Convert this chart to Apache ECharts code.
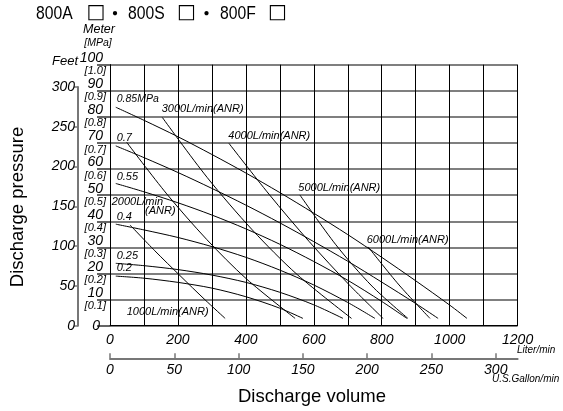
<!DOCTYPE html>
<html><head><meta charset="utf-8">
<script src="https://cdn.jsdelivr.net/npm/echarts@6/dist/echarts.min.js"></script>
<style>html,body{margin:0;padding:0;background:#fff}#c{width:563px;height:411px}</style>
</head><body><div id="c"></div>
<script>
// ---- data (X: Liter/min, Y: Meter) ----
const meterTicks = [0,10,20,30,40,50,60,70,80,90,100];
const mpaTicks = ['', '[0.1]','[0.2]','[0.3]','[0.4]','[0.5]','[0.6]','[0.7]','[0.8]','[0.9]','[1.0]'];
const literLabels = [0,200,400,600,800,1000,1200];
const gallonTicks = [0,50,100,150,200,250,300];
const feetTicks = [0,50,100,150,200,250,300];

// discharge pressure curves (air supply pressure)
const p085 = [[17,83.7],[100,78.7],[200,72.4],[300,65.6],[400,58.5],[500,51.0],[600,43.1],[700,34.9],[800,26.2],[900,17.2],[1000,7.9],[1051,2.8]];
const p070 = [[17,68.9],[100,64.4],[200,58.7],[300,52.6],[400,46.2],[500,39.4],[600,32.2],[700,24.7],[800,16.7],[900,8.5],[966,2.8]];
const p055 = [[17,54.5],[100,51.3],[200,47.1],[300,42.4],[400,37.1],[500,31.2],[600,24.6],[700,17.4],[800,9.3],[874,2.8]];
const p040 = [[17,38.9],[100,36.7],[200,33.8],[300,30.3],[400,26.2],[500,21.3],[600,15.6],[700,8.9],[780,2.8]];
const p025 = [[17,23.9],[100,23.0],[200,21.5],[300,19.4],[400,16.6],[500,12.8],[600,8.0],[686,2.8]];
const p020 = [[17,19.0],[100,18.2],[200,16.6],[300,14.4],[400,11.1],[500,6.7],[568,2.8]];

// air consumption lines
const a1000 = [[59,38.6],[132,28.7],[206,19.2],[280,9.9],[339,2.8]];
const a2000 = [[49,70.3],[167,50.5],[285,33.0],[402,17.9],[545,2.8]];
const a3000 = [[154,79.8],[286,56.8],[419,36.7],[551,19.6],[711,2.8]];
const a4000 = [[350,69.9],[468,50.4],[586,32.3],[704,15.7],[804,2.8]];
const a5000 = [[559,50.1],[665,31.0],[771,15.2],[877,2.8]];
const a6000 = [[760,30.2],[851,15.6],[942,2.8]];

const curves = [p085,p070,p055,p040,p025,p020,a1000,a2000,a3000,a4000,a5000,a6000];
const L_PER_GAL = 3.78541;

const chart = echarts.init(document.getElementById('c'), null, {renderer:'canvas'});

function txt(text, x, y, size, opts, extra){
  return Object.assign({type:'text', x:x, y:y, style:Object.assign({text:text, fontSize:size, fontFamily:'Liberation Sans', fill:'#000', textVerticalAlign:'middle'}, opts||{})}, extra||{});
}
const ital = {fontStyle:'italic'};

chart.setOption({
  animation:false,
  backgroundColor:'#fff',
  grid:[
    {left:110, top:64.7, width:407.6, height:261},
    {left:110, top:357.3, width:407.6, height:1},
    {left:78, top:87, width:1, height:238.7}
  ],
  xAxis:[
    {gridIndex:0, type:'value', min:0, max:1200, interval:100,
     axisLine:{show:true, lineStyle:{color:'#000', width:1}},
     axisTick:{show:false},
     splitLine:{show:true, lineStyle:{color:'#000', width:1}},
     axisLabel:{margin:7, fontSize:14, fontStyle:'italic', fontFamily:'Liberation Sans', color:'#000',
       formatter:v=> literLabels.indexOf(v)>=0 ? String(v) : ''}},
    {gridIndex:1, type:'value', min:0, max:1200/L_PER_GAL, position:'top',
     axisLine:{show:true, lineStyle:{color:'#777', width:2}},
     axisTick:{show:true, inside:false, length:5, lineStyle:{color:'#777', width:1.5}, customValues:gallonTicks},
     splitLine:{show:false},
     axisLabel:{show:false}},
    {gridIndex:1, type:'value', min:0, max:1200/L_PER_GAL, position:'bottom',
     axisLine:{show:false}, axisTick:{show:false}, splitLine:{show:false},
     axisLabel:{margin:5, fontSize:14, fontStyle:'italic', fontFamily:'Liberation Sans', color:'#000', customValues:gallonTicks}},
    {gridIndex:2, type:'value', show:false, min:0, max:1}
  ],
  yAxis:[
    {gridIndex:0, type:'value', min:0, max:100, interval:10,
     axisLine:{show:true, lineStyle:{color:'#000', width:1}},
     axisTick:{show:true, length:13, lineStyle:{color:'#333', width:1.5}},
     splitLine:{show:true, lineStyle:{color:'#555', width:1.5}},
     axisLabel:{margin:4, formatter:function(v){
        const i = meterTicks.indexOf(v);
        if (i===0) return '{z|0}';
        return '{a|'+v+'}\n{b|'+mpaTicks[i]+'}';
      },
      rich:{
        a:{fontSize:14, lineHeight:13, fontStyle:'italic', fontFamily:'Liberation Sans', color:'#000', align:'right', padding:[0,3,0,0]},
        b:{fontSize:11, lineHeight:13, fontStyle:'italic', fontFamily:'Liberation Sans', color:'#000', align:'right'},
        z:{fontSize:14, fontStyle:'italic', fontFamily:'Liberation Sans', color:'#000', padding:[0,6,0,0]}
      }}},
    {gridIndex:1, type:'value', show:false, min:0, max:1},
    {gridIndex:2, type:'value', min:0, max:300, interval:50,
     axisLine:{show:true, lineStyle:{color:'#777', width:2}},
     axisTick:{show:true, length:4, lineStyle:{color:'#777', width:1.5}},
     splitLine:{show:false},
     axisLabel:{margin:3, fontSize:14, fontStyle:'italic', fontFamily:'Liberation Sans', color:'#000'}}
  ],
  series: curves.map(d=>({type:'line', xAxisIndex:0, yAxisIndex:0, data:d, symbol:'none', smooth:0.3, silent:true,
     lineStyle:{color:'#000', width:1}})),
  graphic:[
    txt('800A', 36, 13.5, 18.5, {}, {scaleX:0.85}),
    txt('\u25A1', 96, 13, 20, {fontFamily:'DejaVu Sans', textAlign:'center'}),
    txt('\u30FB', 115, 13.5, 20, {fontFamily:'Noto Sans CJK JP', textAlign:'center'}),
    txt('800S', 128, 13.5, 18.5, {}, {scaleX:0.85}),
    txt('\u25A1', 186.5, 13, 20, {fontFamily:'DejaVu Sans', textAlign:'center'}),
    txt('\u30FB', 206.5, 13.5, 20, {fontFamily:'Noto Sans CJK JP', textAlign:'center'}),
    txt('800F', 220, 13.5, 18.5, {}, {scaleX:0.85}),
    txt('\u25A1', 277.5, 13, 20, {fontFamily:'DejaVu Sans', textAlign:'center'}),
    txt('Discharge volume', 312, 396.6, 18.5, {textAlign:'center'}),
    {type:'text', x:18, y:207, rotation:Math.PI/2, style:{text:'Discharge pressure', fontSize:18.5, fontFamily:'Liberation Sans', fill:'#000', textAlign:'center', textVerticalAlign:'middle'}},
    txt('Meter', 99, 30, 12.5, {textAlign:'center', fontStyle:'italic'}),
    txt('[MPa]', 98, 43, 10.5, {textAlign:'center', fontStyle:'italic'}),
    txt('Feet', 52, 61, 13, ital),
    txt('Liter/min', 517, 350, 10, ital),
    txt('U.S.Gallon/min', 492, 379.5, 10, ital),
    txt('0.85MPa', 116.7, 98.7, 10.5, ital),
    txt('0.7', 116.7, 137.7, 11, ital),
    txt('0.55', 116.7, 177, 11, ital),
    txt('0.4', 116.7, 216.7, 11, ital),
    txt('0.25', 116.7, 255.8, 11, ital),
    txt('0.2', 116.7, 268, 11, ital),
    txt('3000L/min(ANR)', 161.7, 109, 11, ital),
    txt('4000L/min(ANR)', 228.3, 136, 11, ital),
    txt('5000L/min(ANR)', 298.3, 188.3, 11, ital),
    txt('6000L/min(ANR)', 366.7, 240.3, 11, ital),
    txt('2000L/min', 111.7, 201.7, 11, ital),
    txt('(ANR)', 145, 211, 11, ital),
    txt('1000L/min(ANR)', 126.7, 312, 11, ital)
  ]
});
</script></body></html>
